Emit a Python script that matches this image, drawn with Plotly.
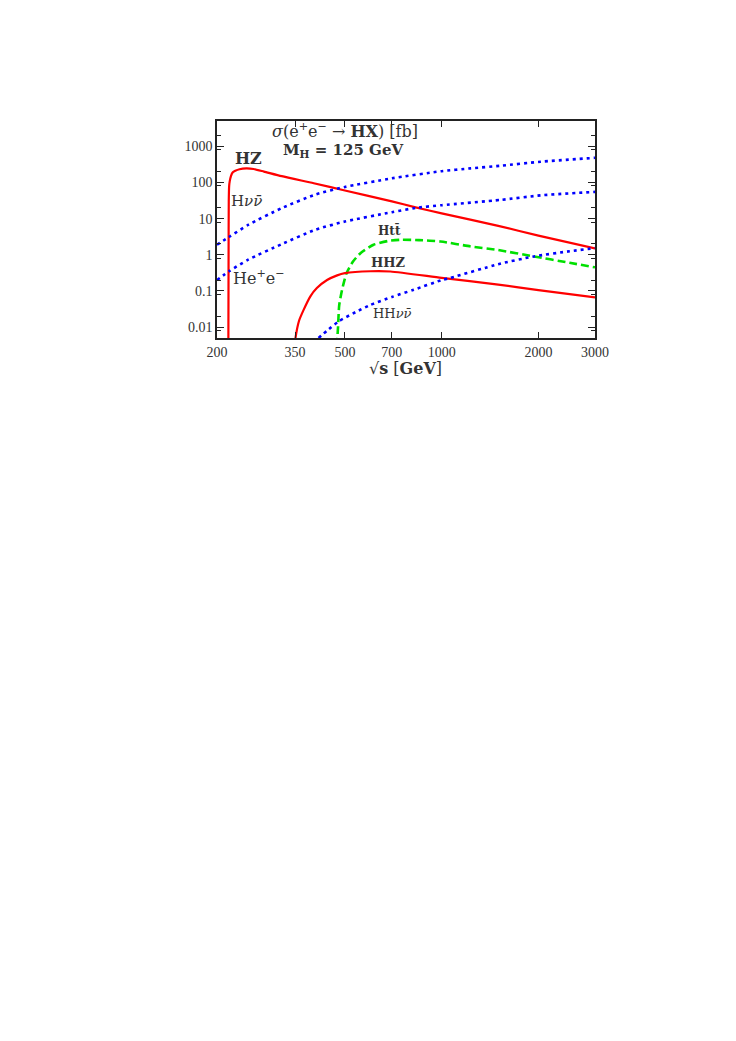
import plotly.graph_objects as go

# sqrt(s) in GeV, sigma in fb
hz_s = [216.9, 217.3, 217.6, 218.2, 219, 221, 224, 228, 235, 247, 260, 280, 318, 400, 500, 700, 830, 1000, 1500, 2000, 3000]
hz_sig = [0.001, 1, 30, 80, 105, 150, 190, 210, 232, 244, 235, 200, 149, 95, 60, 30, 20.5, 14, 6.3, 3.4, 1.5]

hnn_s = [200, 218, 250, 318, 404, 500, 700, 1000, 1230, 1530, 2035, 3000]
hnn_sig = [1.9, 3.1, 6.7, 19.5, 46, 75, 130, 205, 245, 290, 375, 480]

hee_s = [200, 218, 250, 318, 404, 500, 700, 830, 1000, 1530, 2035, 3000]
hee_sig = [0.2, 0.35, 0.73, 1.97, 4.9, 8.3, 15, 19.8, 23.5, 33, 44, 55]

htt_s = [472, 476, 480, 490, 506, 530, 559, 614, 680, 744, 850, 992, 1231, 1500, 1937, 2500, 3000]
htt_sig = [0.003, 0.01, 0.04, 0.108, 0.31, 0.65, 1.11, 1.89, 2.4, 2.6, 2.55, 2.33, 1.7, 1.35, 0.9, 0.6, 0.45]

hhz_s = [345, 351, 360, 372, 390, 409, 440, 473, 500, 600, 693, 1000, 1500, 2000, 3000]
hhz_sig = [0.001, 0.005, 0.015, 0.03, 0.07, 0.12, 0.2, 0.27, 0.31, 0.35, 0.345, 0.23, 0.15, 0.105, 0.066]

hhnn_s = [414, 440, 478, 540, 600, 700, 819, 1000, 1066, 1500, 1937, 2500, 3000]
hhnn_sig = [0.005, 0.008, 0.0144, 0.026, 0.041, 0.068, 0.108, 0.2, 0.23, 0.55, 0.9, 1.25, 1.53]

x_ticks = [200, 350, 500, 700, 1000, 2000, 3000]
y_ticks = [0.01, 0.1, 1, 10, 100, 1000]
y_ticktext = ["0.01", "0.1", "1", "10", "100", "1000"]
y_minor = [0.008, 0.02, 0.08, 0.2, 0.8, 2, 8, 20, 80, 200, 800, 2000]

RED = "#ff0000"
BLUE = "#0000ff"
GREEN = "#00e000"
TICKFONT = "Liberation Serif"
FONT = "DejaVu Serif"

fig = go.Figure()

curves = [
    (hz_s, hz_sig, RED, "solid"),
    (hnn_s, hnn_sig, BLUE, "3px,4px"),
    (hee_s, hee_sig, BLUE, "3px,4px"),
    (htt_s, htt_sig, GREEN, "8px,4px"),
    (hhz_s, hhz_sig, RED, "solid"),
    (hhnn_s, hhnn_sig, BLUE, "3px,4px"),
]
for xs, ys, col, dash in curves:
    fig.add_trace(go.Scatter(
        x=xs, y=ys, mode="lines",
        line=dict(color=col, width=2.2 if col == RED else 2.6, dash=dash, shape="spline", smoothing=0.6),
        showlegend=False, hoverinfo="skip",
    ))

fig.update_xaxes(
    type="log", range=[2.30103, 3.47712],
    tickvals=x_ticks, ticktext=[str(v) for v in x_ticks],
    ticks="inside", ticklen=6, tickwidth=1.3, tickcolor="#222",
    showline=True, linecolor="#222", linewidth=1.6, mirror="ticks",
    showgrid=False, zeroline=False,
    tickfont=dict(family=TICKFONT, size=14, color="#333"),
)
fig.update_yaxes(
    type="log", range=[-2.30103, 3.69897],
    tickvals=y_ticks, ticktext=y_ticktext,
    ticks="inside", ticklen=7, tickwidth=1.3, tickcolor="#222",
    minor=dict(tickvals=y_minor, ticks="inside", ticklen=4, tickcolor="#222", showgrid=False),
    showline=True, linecolor="#222", linewidth=1.6, mirror="ticks",
    showgrid=False, zeroline=False,
    tickfont=dict(family=TICKFONT, size=14, color="#333"),
)

def px_to_paper(px, py):
    return (px - 217) / 378, (338 - py) / 217

labels = [
    ("<b>HZ</b>", 248, 158, 16),
    ("H<i>\u03bd\u03bd\u0304</i>", 246, 201, 15),
    ("He<sup>+</sup>e<sup>\u2212</sup>", 259, 277, 16),
    ("<b>Htt\u0304</b>", 389, 230, 12),
    ("<b>HHZ</b>", 388, 262, 13),
    ("HH<i>\u03bd\u03bd\u0304</i>", 392, 313, 13),
    ("<i>\u03c3</i>(e<sup>+</sup>e<sup>\u2212</sup> \u2192 <b>HX</b>) [fb]", 345, 130, 16),
    ("<b>M<sub>H</sub> = 125 GeV</b>", 343, 150, 15),
]
for text, px, py, size in labels:
    xp, yp = px_to_paper(px, py)
    fig.add_annotation(
        text=text, x=xp, y=yp, xref="paper", yref="paper",
        showarrow=False, xanchor="center", yanchor="middle",
        font=dict(family=FONT, size=size, color="#333"),
    )

# axis title
xp, yp = px_to_paper(405, 368)
fig.add_annotation(
    text="\u221a<b>s</b> [<b>GeV</b>]", x=xp, y=yp, xref="paper", yref="paper",
    showarrow=False, xanchor="center", yanchor="middle",
    font=dict(family=FONT, size=16, color="#333"),
)

# page body has an 8px margin, so the plot margins are shifted by that
fig.update_layout(
    width=736, height=1041, autosize=False,
    margin=dict(l=209, r=149, t=113, b=711),
    paper_bgcolor="white", plot_bgcolor="white",
)

fig.write_html("out.html")
